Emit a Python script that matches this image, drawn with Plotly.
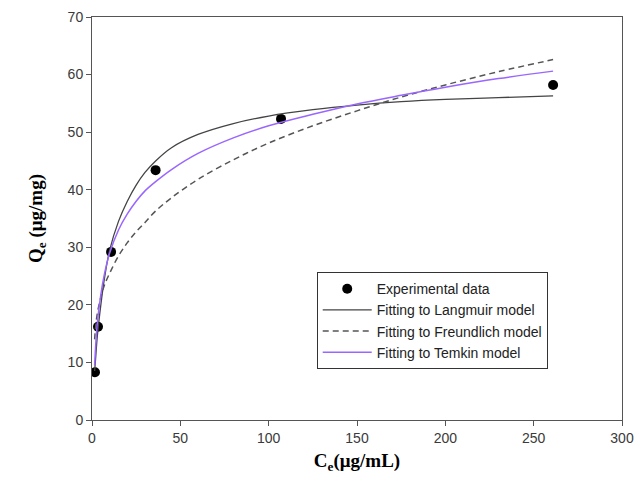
import plotly.graph_objects as go

# Experimental data
exp_ce = [1.7, 3.4, 10.8, 36, 107, 261]
exp_qe = [8.3, 16.2, 29.2, 43.4, 52.3, 58.2]

# Fitted curves
lang_ce = [1.5, 2, 3, 5, 7, 10, 15, 20, 25, 30, 36, 45, 60, 80, 100, 125, 150, 175, 200, 230, 261]
lang_qe = [8.5, 10.5, 14.5, 20.0, 24.5, 29.5, 34.5, 38.0, 40.8, 43.0, 45.0, 47.3, 49.6, 51.5, 52.8, 53.9, 54.7, 55.3, 55.7, 56.0, 56.3]

freu_ce = [1.5, 2, 3, 5, 7, 10, 15, 20, 25, 30, 36, 45, 60, 80, 100, 125, 150, 175, 200, 230, 261]
freu_qe = [14.0, 16.0, 18.5, 21.3, 23.4, 25.5, 28.5, 30.8, 32.7, 34.3, 36.3, 38.6, 41.8, 45.2, 48.1, 51.1, 53.7, 56.1, 58.2, 60.5, 62.6]

temk_ce = [1.5, 2, 3, 5, 7, 10, 15, 20, 25, 30, 36, 45, 60, 80, 100, 125, 150, 175, 200, 230, 261]
temk_qe = [9.5, 12.5, 16.8, 21.8, 25.3, 29.0, 33.0, 35.8, 38.0, 39.8, 41.4, 43.5, 46.3, 49.0, 51.1, 53.1, 54.9, 56.4, 57.8, 59.3, 60.6]

x_ticks = [0, 50, 100, 150, 200, 250, 300]
y_ticks = [0, 10, 20, 30, 40, 50, 60, 70]

fig = go.Figure()
fig.add_trace(go.Scatter(x=exp_ce, y=exp_qe, mode="markers", name="Experimental data",
                         marker=dict(color="black", size=10)))
fig.add_trace(go.Scatter(x=lang_ce, y=lang_qe, mode="lines", name="Fitting to Langmuir model",
                         line=dict(color="#444444", width=1.3, shape="spline")))
fig.add_trace(go.Scatter(x=freu_ce, y=freu_qe, mode="lines", name="Fitting to Freundlich model",
                         line=dict(color="#555555", width=1.5, dash="6px,4px", shape="spline")))
fig.add_trace(go.Scatter(x=temk_ce, y=temk_qe, mode="lines", name="Fitting to Temkin model",
                         line=dict(color="#9966ff", width=1.5, shape="spline")))

axis_common = dict(showgrid=False, zeroline=False, showline=True, linecolor="#555555", linewidth=1,
                   mirror=True, ticks="outside", ticklen=5, tickcolor="#555555", automargin=False,
                   tickfont=dict(family="Liberation Sans, Arial", size=14, color="#3a3a3a"))

title_font = dict(family="Liberation Serif, Times New Roman", size=19, color="black")

fig.update_layout(
    width=635, height=481,
    margin=dict(l=84, r=21, t=9, b=69),
    paper_bgcolor="white", plot_bgcolor="white",
    xaxis=dict(range=[0, 300], tickvals=x_ticks,
               title=dict(text="<b>C<sub>e</sub>(μg/mL)</b>", standoff=8, font=title_font),
               **axis_common),
    yaxis=dict(range=[0, 70], tickvals=y_ticks,
               title=dict(text="<b>Q<sub>e</sub> (μg/mg)</b>", standoff=19, font=title_font),
               **axis_common),
    legend=dict(x=0.424, y=0.367, xanchor="left", yanchor="top",
                bordercolor="#333333", borderwidth=1, bgcolor="white",
                font=dict(family="Liberation Sans, Arial", size=14, color="#222222"),
                tracegroupgap=0, itemwidth=49),
    showlegend=True,
)
fig.write_html("out.html")
